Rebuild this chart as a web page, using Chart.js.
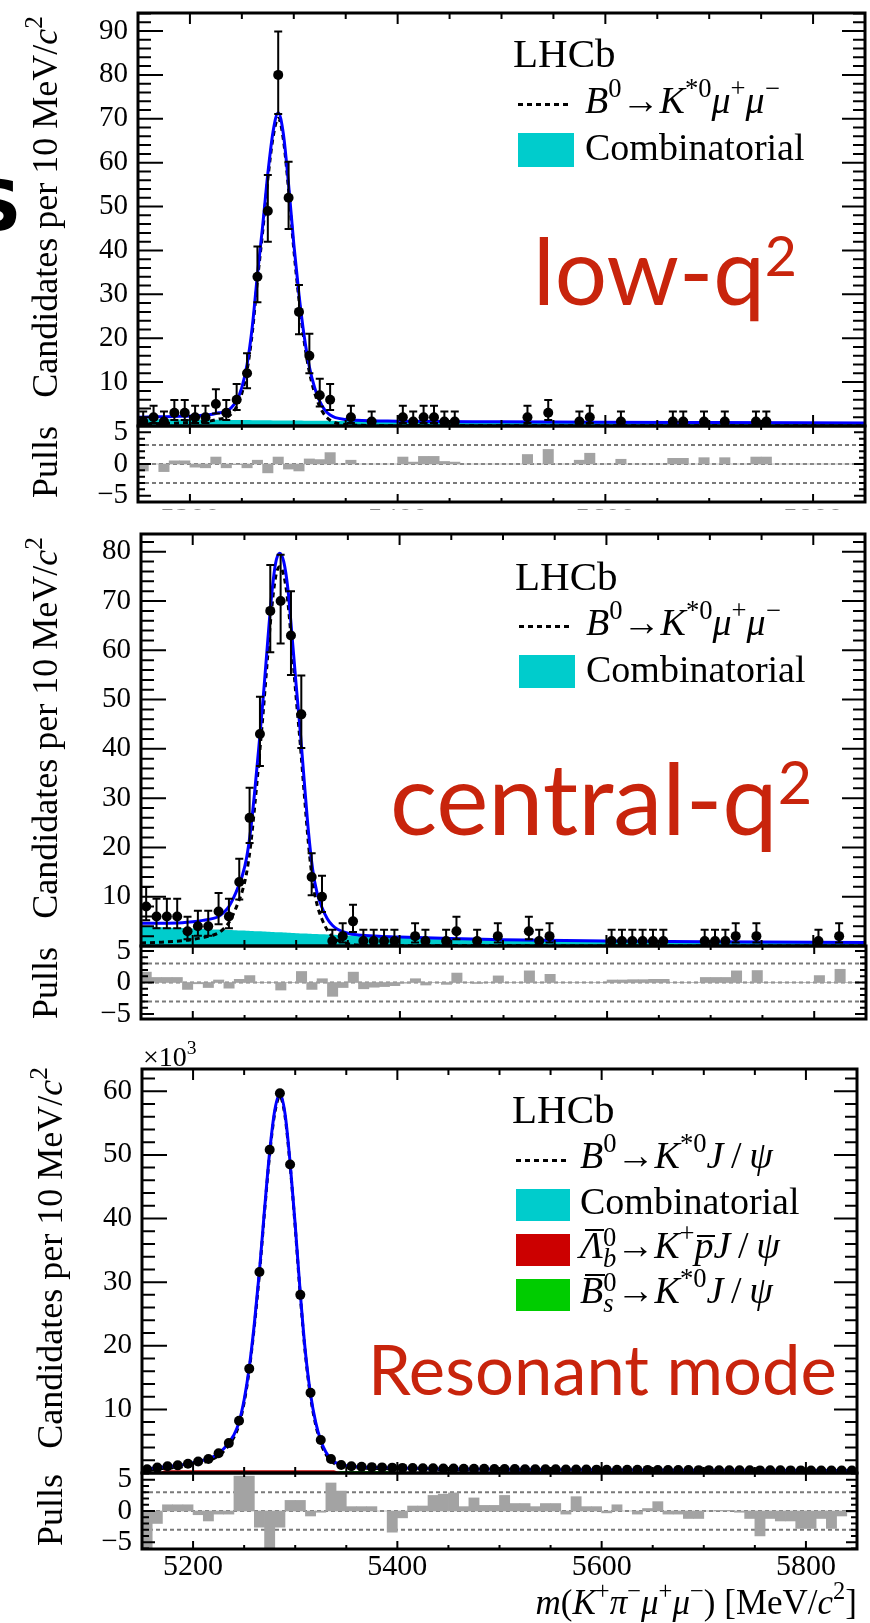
<!DOCTYPE html>
<html>
<head>
<meta charset="utf-8">
<title>m(K+ pi- mu+ mu-) fits</title>
<script src="https://cdn.jsdelivr.net/npm/chart.js@4.4.1/dist/chart.umd.min.js"></script>
<style>
  html, body { margin: 0; padding: 0; background: #fff; }
  #page { position: relative; width: 870px; height: 1623px; overflow: hidden; background: #fff; }
  #page canvas { position: absolute; left: 0; }
  .lbl { position: absolute; left: 0; top: 0; white-space: nowrap; line-height: 1; color: #000; }
  .lbl sup { font-size: 0.7em; vertical-align: 0.6em; line-height: 0; }
  .lbl sup.big2 { font-size: 0.6em; vertical-align: 0.52em; }
  .lbl .ss { display: inline-block; font-size: 0.7em; line-height: 0.8; vertical-align: -0.35em; }
  .lbl .ss > span { display: block; }
  .lbl .ov, .lbl .ovp { position: relative; }
  .lbl .ov::before, .lbl .ovp::before { content: ''; position: absolute; left: 0.14em; right: -0.04em; border-top: 2px solid #000; }
  .lbl .ov::before { top: 0.13em; }
  .lbl .ovp::before { top: 0.3em; left: 0.06em; }
  .probe { display: inline-block; width: 0; height: 0; vertical-align: baseline; }
  .box { position: absolute; }
  .dots { position: absolute; height: 3px; background: repeating-linear-gradient(90deg, #000 0 5px, transparent 5px 9px); }
</style>
</head>
<body>
<div id="page"></div>
<script>
// ---- shared axis values ----
const xRange = [5150, 5850];
const xTicks = [5200, 5400, 5600, 5800];
const pullTicks = [-5, 0, 5];
const pullRefLines = [-3, 0, 3];

const binCentres = [
  5155, 5165, 5175, 5185, 5195, 5205, 5215, 5225, 5235, 5245,
  5255, 5265, 5275, 5285, 5295, 5305, 5315, 5325, 5335, 5345,
  5355, 5365, 5375, 5385, 5395, 5405, 5415, 5425, 5435, 5445,
  5455, 5465, 5475, 5485, 5495, 5505, 5515, 5525, 5535, 5545,
  5555, 5565, 5575, 5585, 5595, 5605, 5615, 5625, 5635, 5645,
  5655, 5665, 5675, 5685, 5695, 5705, 5715, 5725, 5735, 5745,
  5755, 5765, 5775, 5785, 5795, 5805, 5815, 5825, 5835, 5845
];

// ---- low-q2 ----
const lowYTicks = [10, 20, 30, 40, 50, 60, 70, 80, 90];
const lowMass = [5155, 5165, 5175, 5185, 5195, 5205, 5215, 5225, 5235, 5245,
  5255, 5265, 5275, 5285, 5295, 5305, 5315, 5325, 5335, 5355, 5375,
  5405, 5415, 5425, 5435, 5445, 5455, 5525, 5545, 5575, 5585, 5615,
  5665, 5675, 5695, 5715, 5745, 5755];
const lowCounts = [1, 2, 1, 3, 3, 2, 2, 5, 3, 6,
  12, 34, 49, 80, 52, 26, 16, 7, 6, 2, 1,
  2, 1, 2, 2, 1, 1, 2, 3, 1, 2, 1,
  1, 1, 1, 1, 1, 1];
const lowErrLow = [0.17, 0.71, 0.17, 1.37, 1.37, 0.71, 0.71, 2.84, 1.37, 3.62,
  8.58, 28.2, 42.0, 71.1, 44.9, 20.9, 12.0, 4.42, 3.62, 0.71, 0.17,
  0.71, 0.17, 0.71, 0.71, 0.17, 0.17, 0.71, 1.37, 0.17, 0.71, 0.17,
  0.17, 0.17, 0.17, 0.17, 0.17, 0.17];
const lowErrHigh = [3.30, 4.64, 3.30, 5.92, 5.92, 4.64, 4.64, 8.38, 5.92, 9.58,
  16.6, 40.9, 57.2, 89.9, 60.2, 32.1, 21.0, 10.77, 9.58, 4.64, 3.30,
  4.64, 3.30, 4.64, 4.64, 3.30, 3.30, 4.64, 5.92, 3.30, 4.64, 3.30,
  3.30, 3.30, 3.30, 3.30, 3.30, 3.30];
const lowFitMass = [5150, 5170, 5190, 5210, 5220, 5228, 5235, 5240, 5245, 5250,
  5255, 5260, 5265, 5270, 5275, 5280, 5285, 5290, 5295, 5300,
  5305, 5310, 5315, 5320, 5325, 5330, 5335, 5340, 5350, 5360,
  5400, 5500, 5600, 5700, 5850];
const lowFitTotal = [2.0, 2.1, 2.2, 2.4, 2.6, 3.0, 3.3, 4.2, 5.8, 8.8,
  14.0, 22.5, 34.5, 45.5, 57.5, 67.0, 71.4, 66.5, 55.0, 41.5,
  30.0, 20.5, 13.5, 8.8, 5.6, 3.6, 2.5, 1.9, 1.5, 1.3,
  1.1, 0.95, 0.85, 0.78, 0.7];
const lowFitSignal = [0.4, 0.55, 0.7, 0.95, 1.17, 1.59, 1.91, 2.82, 4.43, 7.44,
  12.66, 21.17, 33.18, 44.19, 56.2, 65.72, 70.13, 65.24, 53.75, 40.26,
  28.77, 19.28, 12.29, 7.6, 4.41, 2.42, 1.33, 0.74, 0.36, 0.18,
  0.07, 0.05, 0.05, 0.06, 0.08];
const lowFitComb = [1.6, 1.55, 1.5, 1.45, 1.43, 1.41, 1.39, 1.38, 1.37, 1.36,
  1.34, 1.33, 1.32, 1.31, 1.3, 1.28, 1.27, 1.26, 1.25, 1.24,
  1.23, 1.22, 1.21, 1.2, 1.19, 1.18, 1.17, 1.16, 1.14, 1.12,
  1.03, 0.9, 0.8, 0.72, 0.62];
const lowPulls = [
  -1.1, 0.0, -1.2, 0.5, 0.5, -0.5, -0.6, 1.1, -0.6, -0.1,
  -0.6, 0.6, -1.4, 1.1, -0.8, -1.1, 0.8, 0.7, 1.8, 0.0,
  0.6, 0.0, 0.0, 0.0, 0.0, 1.1, 0.3, 1.2, 1.2, 0.4,
  0.3, 0.0, 0.0, 0.0, 0.0, 0.0, 0.0, 1.5, 0.0, 2.3,
  0.0, 0.0, 0.6, 1.7, 0.0, 0.0, 0.75, 0.0, 0.0, 0.0,
  0.0, 0.9, 0.9, 0.0, 1.0, 0.0, 1.0, 0.0, 0.0, 1.1,
  1.1, 0.0, 0.0, 0.0, 0.0, 0.0, 0.0, 0.0, 0.0, 0.0
];

// ---- central-q2 ----
const centralYTicks = [10, 20, 30, 40, 50, 60, 70, 80];
const centralMass = [5155, 5165, 5175, 5185, 5195, 5205, 5215, 5225, 5235, 5245,
  5255, 5265, 5275, 5285, 5295, 5305, 5315, 5325, 5335, 5345,
  5355, 5365, 5375, 5385, 5395, 5415, 5425, 5445, 5455, 5475,
  5495, 5525, 5535, 5545, 5605, 5615, 5625, 5635, 5645, 5655,
  5695, 5705, 5715, 5725, 5745, 5805, 5825];
const centralCounts = [8, 6, 6, 6, 3, 4, 4, 7, 6, 13,
  26, 43, 68, 70, 63, 47, 14, 10, 1, 2,
  5, 1, 1, 1, 1, 2, 1, 1, 3, 1,
  2, 3, 1, 2, 1, 1, 1, 1, 1, 1,
  1, 1, 1, 2, 2, 1, 2];
const centralErrLow = [5.23, 3.62, 3.62, 3.62, 1.37, 2.09, 2.09, 4.42, 3.62, 9.45,
  20.9, 36.5, 59.6, 61.4, 55.0, 40.2, 10.3, 6.89, 0.17, 0.71,
  2.84, 0.17, 0.17, 0.17, 0.17, 0.71, 0.17, 0.17, 1.37, 0.17,
  0.71, 1.37, 0.17, 0.71, 0.17, 0.17, 0.17, 0.17, 0.17, 0.17,
  0.17, 0.17, 0.17, 0.71, 0.71, 0.17, 0.71];
const centralErrHigh = [11.95, 9.58, 9.58, 9.58, 5.92, 7.16, 7.16, 10.77, 9.58, 17.7,
  32.1, 50.6, 77.3, 79.4, 72.0, 54.9, 18.8, 14.27, 3.30, 4.64,
  8.38, 3.30, 3.30, 3.30, 3.30, 4.64, 3.30, 3.30, 5.92, 3.30,
  4.64, 5.92, 3.30, 4.64, 3.30, 3.30, 3.30, 3.30, 3.30, 3.30,
  3.30, 3.30, 3.30, 4.64, 4.64, 3.30, 4.64];
const centralFitMass = [5150, 5170, 5190, 5200, 5210, 5220, 5225, 5230, 5235, 5240,
  5244, 5248, 5252, 5256, 5260, 5264, 5268, 5272, 5276, 5280,
  5284, 5288, 5292, 5296, 5300, 5304, 5308, 5312, 5316, 5320,
  5325, 5330, 5335, 5340, 5350, 5360, 5380, 5400, 5450, 5500,
  5600, 5700, 5850];
const centralFitTotal = [4.6, 4.6, 4.7, 4.9, 5.2, 5.6, 6.0, 6.8, 8.0, 10.0,
  12.0, 14.3, 17.8, 23.5, 31.5, 40.5, 50.0, 60.5, 70.5, 77.5,
  79.7, 78.0, 72.5, 63.0, 53.0, 43.5, 33.0, 23.0, 15.5, 11.0,
  7.8, 5.6, 4.2, 3.4, 2.6, 2.25, 1.98, 1.82, 1.5, 1.28,
  1.02, 0.87, 0.71];
const centralFitSignal = [0.6, 0.78, 1.06, 1.35, 1.74, 2.23, 2.67, 3.52, 4.76, 6.81,
  8.85, 11.18, 14.72, 20.45, 28.5, 37.53, 47.07, 57.61, 67.65, 74.69,
  76.93, 75.27, 69.81, 60.35, 50.4, 40.94, 30.47, 20.51, 13.04, 8.58,
  5.43, 3.27, 1.92, 1.16, 0.45, 0.18, 0.08, 0.07, 0.05, 0.03,
  0.02, 0.02, 0.01];
const centralFitComb = [4.0, 3.82, 3.64, 3.55, 3.46, 3.37, 3.33, 3.28, 3.24, 3.19,
  3.15, 3.12, 3.08, 3.05, 3.0, 2.97, 2.93, 2.89, 2.85, 2.81,
  2.77, 2.73, 2.69, 2.65, 2.6, 2.56, 2.53, 2.49, 2.46, 2.42,
  2.37, 2.33, 2.28, 2.24, 2.15, 2.07, 1.9, 1.75, 1.45, 1.25,
  1.0, 0.85, 0.7];
const centralPulls = [
  1.65, 0.8, 0.8, 0.8, -1.1, -0.2, -0.8, 0.4, -0.9, 0.5,
  1.1, 0.0, 0.0, -1.2, 0.0, 1.75, -1.1, 0.6, -2.2, -0.8,
  1.65, -1.0, -0.75, -0.65, -0.5, -0.1, 0.6, -0.4, 0.0, -0.3,
  1.5, 0.0, -0.15, 0.0, 1.05, 0.0, 0.0, 1.85, 0.0, 1.3,
  0.0, 0.0, 0.0, 0.0, 0.0, 0.4, 0.4, 0.45, 0.45, 0.5,
  0.5, 0.0, 0.0, 0.0, 0.8, 0.8, 0.8, 1.85, 0.0, 1.9,
  0.0, 0.0, 0.0, 0.0, 0.0, 1.1, 0.0, 2.1, 0.0, 0.0
];

// ---- resonant mode (x10^3) ----
const resYTicks = [10, 20, 30, 40, 50, 60];
const resCounts = [
  0.6, 0.85, 1.05, 1.2, 1.45, 1.8, 2.2, 3.1, 4.7, 8.2,
  16.4, 31.6, 50.8, 59.7, 48.5, 28.0, 12.6, 5.2, 2.2, 1.25,
  1.05, 0.98, 0.92, 0.88, 0.84, 0.8, 0.78, 0.75, 0.73, 0.71,
  0.7, 0.68, 0.66, 0.65, 0.63, 0.62, 0.61, 0.6, 0.59, 0.58,
  0.57, 0.56, 0.55, 0.54, 0.53, 0.52, 0.51, 0.5, 0.5, 0.49,
  0.48, 0.47, 0.46, 0.46, 0.45, 0.45, 0.44, 0.44, 0.43, 0.43,
  0.41, 0.42, 0.42, 0.41, 0.41, 0.4, 0.4, 0.39, 0.39, 0.39
];
const resFitMass = [5150, 5160, 5170, 5180, 5190, 5200, 5210, 5220, 5230, 5240,
  5245, 5250, 5255, 5260, 5265, 5270, 5275, 5280, 5285, 5290,
  5295, 5300, 5305, 5310, 5315, 5320, 5325, 5330, 5335, 5340,
  5350, 5360, 5380, 5400, 5450, 5500, 5600, 5700, 5850];
const resFitTotal = [0.5, 0.75, 0.95, 1.1, 1.3, 1.6, 2.0, 2.6, 3.8, 6.0,
  8.0, 11.5, 16.6, 23.5, 31.8, 41.5, 50.5, 57.0, 59.6, 56.5,
  48.8, 39.0, 28.2, 19.0, 12.4, 8.0, 5.1, 3.3, 2.2, 1.6,
  1.15, 1.0, 0.88, 0.78, 0.66, 0.58, 0.5, 0.44, 0.38];
const resFitSignal = [0.3, 0.52, 0.7, 0.83, 1.0, 1.28, 1.66, 2.24, 3.42, 5.6,
  7.6, 11.1, 16.2, 23.1, 31.4, 41.1, 50.1, 56.6, 59.2, 56.1,
  48.4, 38.6, 27.8, 18.6, 12.0, 7.6, 4.7, 2.95, 1.9, 1.35,
  0.95, 0.82, 0.72, 0.64, 0.53, 0.46, 0.39, 0.34, 0.29];
const resFitComb = [0.15, 0.15, 0.15, 0.15, 0.15, 0.14, 0.14, 0.14, 0.14, 0.14,
  0.14, 0.14, 0.14, 0.14, 0.14, 0.14, 0.13, 0.13, 0.13, 0.13,
  0.13, 0.13, 0.13, 0.13, 0.13, 0.13, 0.13, 0.13, 0.12, 0.12,
  0.12, 0.12, 0.12, 0.12, 0.11, 0.11, 0.1, 0.1, 0.09];
const resLambdaMass = [5150, 5166, 5172, 5338, 5346, 5850];
const resLambda = [0, 0, 0.45, 0.45, 0, 0];
const resBsMass = [5150, 5336, 5344, 5390, 5400, 5850];
const resBs = [0, 0, 0.3, 0.3, 0, 0];
const resPulls = [
  -6.0, -2.0, 1.0, 1.0, 1.0, -0.6, -1.6, -0.5, -0.5, 5.6,
  5.6, -2.6, -6.0, -2.6, 1.7, 1.7, -0.8, -0.2, 4.5, 3.2,
  0.7, 0.7, 0.7, 0.0, -3.4, -1.1, 0.8, 0.8, 2.5, 2.7,
  2.9, 0.7, 2.1, 0.9, 0.9, 2.5, 1.2, 1.2, 0.7, 1.2,
  1.2, -0.5, 2.3, 0.7, 0.7, -0.3, 1.0, 0.0, -0.5, 0.4,
  1.5, -0.5, -0.5, -1.2, -1.2, 0.0, 0.1, 0.1, -0.2, -1.2,
  -4.0, -1.2, -1.6, -1.6, -2.8, -2.8, -1.2, -2.8, -0.8, -0.2
];

const W = 870;
const SERIF = "'Liberation Serif', 'Times New Roman', serif";
const SANS = "Lato, 'Open Sans', sans-serif";
const RED_TEXT = '#c8240c';
const page = document.getElementById('page');

const xy = (xs, ys) => xs.map((x, i) => ({ x, y: ys[i] }));

// ROOT style frame: ticks on all four sides pointing inwards, dashed pull lines
const rootFrame = {
  id: 'rootFrame',
  beforeDatasetsDraw(chart, args, o) {
    if (!o.refLines) return;
    const { ctx, chartArea: a } = chart;
    const y = chart.scales.y;
    ctx.save();
    ctx.strokeStyle = '#7a7a7a';
    ctx.lineWidth = 2;
    ctx.setLineDash([4, 3]);
    o.refLines.forEach(v => {
      const py = y.getPixelForValue(v);
      ctx.beginPath();
      ctx.moveTo(a.left, py);
      ctx.lineTo(a.right, py);
      ctx.stroke();
    });
    ctx.restore();
  },
  afterDraw(chart, args, o) {
    const { ctx, chartArea: a } = chart;
    const { x, y } = chart.scales;
    ctx.save();
    ctx.strokeStyle = '#000';
    ctx.lineWidth = 2;
    ctx.beginPath();
    for (let v = Math.ceil(y.min / o.yMinor) * o.yMinor; v <= y.max; v += o.yMinor) {
      const py = y.getPixelForValue(v);
      const major = o.yMajor.includes(v);
      ctx.moveTo(a.left, py);
      ctx.lineTo(a.left + (major ? o.yMajLen : o.yMinLen), py);
      ctx.moveTo(a.right, py);
      ctx.lineTo(a.right - (major ? o.yMajLen - 2 : o.yMinLen - 1), py);
    }
    for (let v = x.min; v <= x.max; v += 50) {
      const px = x.getPixelForValue(v);
      const len = xTicks.includes(v) ? o.xMajLen : o.xMinLen;
      ctx.moveTo(px, a.bottom);
      ctx.lineTo(px, a.bottom - len);
      ctx.moveTo(px, a.top);
      ctx.lineTo(px, a.top + len);
    }
    ctx.stroke();
    ctx.lineWidth = 3;
    ctx.strokeRect(a.left, a.top, a.right - a.left, a.bottom - a.top);
    ctx.restore();
  }
};

// vertical error bars with small caps, read from errLow / errHigh on the dataset
const errorBars = {
  id: 'errorBars',
  afterDatasetsDraw(chart) {
    const { ctx, chartArea: a } = chart;
    const y = chart.scales.y;
    chart.data.datasets.forEach((ds, i) => {
      if (!ds.errLow) return;
      const meta = chart.getDatasetMeta(i);
      ctx.save();
      ctx.beginPath();
      ctx.rect(a.left, a.top, a.right - a.left, a.bottom - a.top);
      ctx.clip();
      ctx.strokeStyle = '#000';
      ctx.lineWidth = 2;
      ctx.beginPath();
      meta.data.forEach((pt, j) => {
        const y0 = y.getPixelForValue(ds.errLow[j]);
        const y1 = y.getPixelForValue(ds.errHigh[j]);
        ctx.moveTo(pt.x, y0); ctx.lineTo(pt.x, y1);
        ctx.moveTo(pt.x - 4, y0); ctx.lineTo(pt.x + 4, y0);
        ctx.moveTo(pt.x - 4, y1); ctx.lineTo(pt.x + 4, y1);
      });
      ctx.stroke();
      ctx.restore();
    });
  }
};

function makeChart(box, type, datasets, yMin, yMax, yTicks, frame, xLabels) {
  const xAxisH = xLabels ? xLabels.height : 0;
  const h = box.bottom - box.top + box.padTop + box.below;
  const cv = document.createElement('canvas');
  cv.width = W;
  cv.height = h;
  cv.style.top = (box.top - box.padTop) + 'px';
  cv.style.width = W + 'px';
  cv.style.height = h + 'px';
  page.appendChild(cv);

  return new Chart(cv, {
    type,
    data: { datasets },
    options: {
      responsive: false,
      animation: false,
      devicePixelRatio: 1,
      layout: { padding: { left: 0, top: box.padTop, right: W - box.right, bottom: box.below - xAxisH } },
      plugins: { legend: { display: false }, tooltip: { enabled: false }, rootFrame: frame },
      scales: {
        x: {
          type: 'linear', min: xRange[0], max: xRange[1], offset: false,
          display: !!xLabels,
          grid: { display: false, drawTicks: false },
          border: { display: false },
          ticks: {
            autoSkip: false, maxRotation: 0, padding: 0,
            color: xLabels ? xLabels.color : '#000',
            font: { family: SERIF, size: 30 },
            callback: v => String(v)
          },
          afterBuildTicks: s => { s.ticks = xTicks.map(v => ({ value: v })); },
          afterFit: s => { s.height = xAxisH; }
        },
        y: {
          type: 'linear', min: yMin, max: yMax,
          grid: { display: false, drawTicks: false },
          border: { display: false },
          ticks: {
            autoSkip: false, padding: 10, color: '#000',
            font: { family: SERIF, size: 29 },
            callback: v => v < 0 ? '\u2212' + Math.abs(v) : String(v)
          },
          afterBuildTicks: s => { s.ticks = yTicks.map(v => ({ value: v })); },
          afterFit: s => { s.width = box.left; }
        }
      }
    },
    plugins: [rootFrame, errorBars]
  });
}

function dataSet(mass, counts, lo, hi) {
  return {
    data: xy(mass, counts), showLine: false, order: 0,
    pointRadius: 5, pointBackgroundColor: '#000', pointBorderWidth: 0,
    errLow: lo, errHigh: hi
  };
}
function curve(mass, vals, color, dash, order) {
  return {
    data: xy(mass, vals), borderColor: color, borderWidth: 3, borderDash: dash,
    pointRadius: 0, cubicInterpolationMode: 'monotone', fill: false, order
  };
}
function area(mass, vals, color, order, smooth) {
  return {
    data: xy(mass, vals), borderWidth: 0, backgroundColor: color, fill: 'origin',
    pointRadius: 0, cubicInterpolationMode: smooth ? 'monotone' : 'default', tension: 0, order
  };
}
function pullBars(vals) {
  return [{
    data: xy(binCentres, vals), backgroundColor: '#a3a3a3', borderWidth: 0,
    barPercentage: 1, categoryPercentage: 1, grouped: false
  }];
}

const mainFrame = ticks => ({ yMajor: [0].concat(ticks), yMinor: 2, yMajLen: 25, yMinLen: 13, xMajLen: 11, xMinLen: 6 });
const pullFrame = { yMajor: pullTicks, yMinor: 1, yMajLen: 13, yMinLen: 7, xMajLen: 8, xMinLen: 4, refLines: pullRefLines };

function addText(html, o) {
  const el = document.createElement('div');
  el.className = 'lbl';
  el.innerHTML = html;
  el.style.fontFamily = o.family || SERIF;
  el.style.fontSize = o.size + 'px';
  if (o.color) el.style.color = o.color;
  if (o.weight) el.style.fontWeight = o.weight;
  page.appendChild(el);
  if (o.width) {
    const w0 = el.getBoundingClientRect().width;
    el.style.fontSize = (o.size * o.width / w0).toFixed(2) + 'px';
  }
  const probe = document.createElement('span');
  probe.className = 'probe';
  el.appendChild(probe);
  const r = el.getBoundingClientRect();
  const base = probe.getBoundingClientRect().top - r.top;
  if (o.rotate) {
    el.style.transformOrigin = '0 0';
    el.style.transform = `translate(${o.x}px, ${o.cy + r.width / 2}px) rotate(-90deg) translate(0px, ${-base}px)`;
  } else {
    el.style.left = (o.align === 'right' ? o.x - r.width : o.x) + 'px';
    el.style.top = (o.base - base) + 'px';
  }
  return el;
}
function addBox(x, y, w, h, color) {
  const d = document.createElement('div');
  d.className = 'box';
  d.style.cssText = `left:${x}px;top:${y}px;width:${w}px;height:${h}px;background:${color}`;
  page.appendChild(d);
}
function addDots(x1, x2, y) {
  const d = document.createElement('div');
  d.className = 'dots';
  d.style.left = x1 + 'px';
  d.style.top = (y - 1.5) + 'px';
  d.style.width = (x2 - x1) + 'px';
  page.appendChild(d);
}

function build() {
  // low-q2 panel
  makeChart({ top: 13, bottom: 426, left: 138, right: 865, padTop: 30, below: 30 }, 'line', [
    dataSet(lowMass, lowCounts, lowErrLow, lowErrHigh),
    curve(lowFitMass, lowFitTotal, '#0000ff', [], 1),
    curve(lowFitMass, lowFitSignal, '#000', [5, 4], 2),
    area(lowFitMass, lowFitComb, '#00cccc', 3, true)
  ], 0, 94.1, lowYTicks, mainFrame(lowYTicks));
  makeChart({ top: 426, bottom: 502, left: 138, right: 865, padTop: 30, below: 30 }, 'bar',
    pullBars(lowPulls), -6, 6, pullTicks, pullFrame, { height: 30, color: '#8a8a8a' });

  // the x labels of the first pull panel are hidden behind the next panel
  addBox(0, 510, W, 23, '#fff');

  // central-q2 panel
  makeChart({ top: 534, bottom: 946, left: 141, right: 866, padTop: 30, below: 30 }, 'line', [
    dataSet(centralMass, centralCounts, centralErrLow, centralErrHigh),
    curve(centralFitMass, centralFitTotal, '#0000ff', [], 1),
    curve(centralFitMass, centralFitSignal, '#000', [5, 4], 2),
    area(centralFitMass, centralFitComb, '#00cccc', 3, true)
  ], 0, 83.6, centralYTicks, mainFrame(centralYTicks));
  makeChart({ top: 946, bottom: 1019, left: 141, right: 866, padTop: 30, below: 30 }, 'bar',
    pullBars(centralPulls), -5.8, 5.8, pullTicks, pullFrame);

  // resonant panel
  makeChart({ top: 1069, bottom: 1473, left: 142, right: 857, padTop: 30, below: 30 }, 'line', [
    dataSet(binCentres, resCounts, null, null),
    curve(resFitMass, resFitTotal, '#0000ff', [], 1),
    curve(resFitMass, resFitSignal, '#000', [5, 4], 2),
    area(resLambdaMass, resLambda, '#cc0000', 3, false),
    area(resBsMass, resBs, '#00cc00', 4, false),
    area(resFitMass, resFitComb, '#00cccc', 5, true)
  ], 0, 63.5, resYTicks, mainFrame(resYTicks));
  makeChart({ top: 1473, bottom: 1549, left: 142, right: 857, padTop: 30, below: 55 }, 'bar',
    pullBars(resPulls), -6.1, 6.1, pullTicks, pullFrame, { height: 45, color: '#000' });

  // axis titles
  const yTitle = 'Candidates per 10 MeV/<i>c</i><sup>2</sup>';
  addText(yTitle, { size: 36, rotate: true, x: 57, cy: 207 });
  addText('Pulls', { size: 36, rotate: true, x: 57, cy: 462 });
  addText(yTitle, { size: 36, rotate: true, x: 57, cy: 728 });
  addText('Pulls', { size: 36, rotate: true, x: 57, cy: 983 });
  addText(yTitle, { size: 36, rotate: true, x: 62, cy: 1258 });
  addText('Pulls', { size: 36, rotate: true, x: 62, cy: 1510 });
  addText('\u00d710<sup>3</sup>', { size: 28, x: 143, base: 1066 });
  addText('<i>m</i>(<i>K</i><sup>+</sup><i>\u03c0</i><sup>\u2212</sup><i>\u03bc</i><sup>+</sup><i>\u03bc</i><sup>\u2212</sup>) [MeV/<i>c</i><sup>2</sup>]',
    { size: 35, x: 857, base: 1614, align: 'right' });
  addText('S', { family: "'DejaVu Sans', sans-serif", weight: 'bold', size: 70, x: -29, base: 230 });

  // legends
  const mumu = '<i>B</i><sup>0</sup>\u2192<i>K</i><sup>*0</sup><i>\u03bc</i><sup>+</sup><i>\u03bc</i><sup>\u2212</sup>';
  const jpsi = '<i>J</i>\u2009/\u2009<i>\u03c8</i>';

  addText('LHCb', { size: 41, x: 513, base: 67 });
  addDots(518, 572, 104);
  addText(mumu, { size: 38, x: 585, base: 113 });
  addBox(518, 133, 56, 34, '#00cccc');
  addText('Combinatorial', { size: 38, x: 585, base: 160 });

  addText('LHCb', { size: 41, x: 515, base: 590 });
  addDots(519, 573, 626);
  addText(mumu, { size: 38, x: 586, base: 635 });
  addBox(519, 655, 56, 33, '#00cccc');
  addText('Combinatorial', { size: 38, x: 586, base: 682 });

  addText('LHCb', { size: 41, x: 512, base: 1123 });
  addDots(516, 567, 1160);
  addText('<i>B</i><sup>0</sup>\u2192<i>K</i><sup>*0</sup>' + jpsi, { size: 38, x: 580, base: 1168 });
  addBox(516, 1189, 54, 32, '#00cccc');
  addText('Combinatorial', { size: 38, x: 580, base: 1214 });
  addBox(516, 1234, 54, 32, '#cc0000');
  addText('<span class="ov"><i>\u039b</i></span><span class="ss"><span>0</span><span><i>b</i></span></span>\u2192<i>K</i><sup>+</sup><span class="ovp"><i>p</i></span>' + jpsi,
    { size: 38, x: 580, base: 1258 });
  addBox(516, 1279, 54, 32, '#00cc00');
  addText('<span class="ov"><i>B</i></span><span class="ss"><span>0</span><span><i>s</i></span></span>\u2192<i>K</i><sup>*0</sup>' + jpsi,
    { size: 38, x: 580, base: 1303 });

  // big red region labels
  addText('low-q<sup class="big2">2</sup>', { family: SANS, size: 96, color: RED_TEXT, x: 533, base: 305, width: 264 });
  addText('central-q<sup class="big2">2</sup>', { family: SANS, size: 96, color: RED_TEXT, x: 390, base: 835, width: 422 });
  addText('Resonant mode', { family: SANS, size: 68, color: RED_TEXT, x: 368, base: 1395, width: 469 });
}

Promise.all([
  document.fonts.load('38px "Liberation Serif"'),
  document.fonts.load('italic 38px "Liberation Serif"'),
  document.fonts.load('90px Lato')
]).then(build, build);
</script>
</body>
</html>
